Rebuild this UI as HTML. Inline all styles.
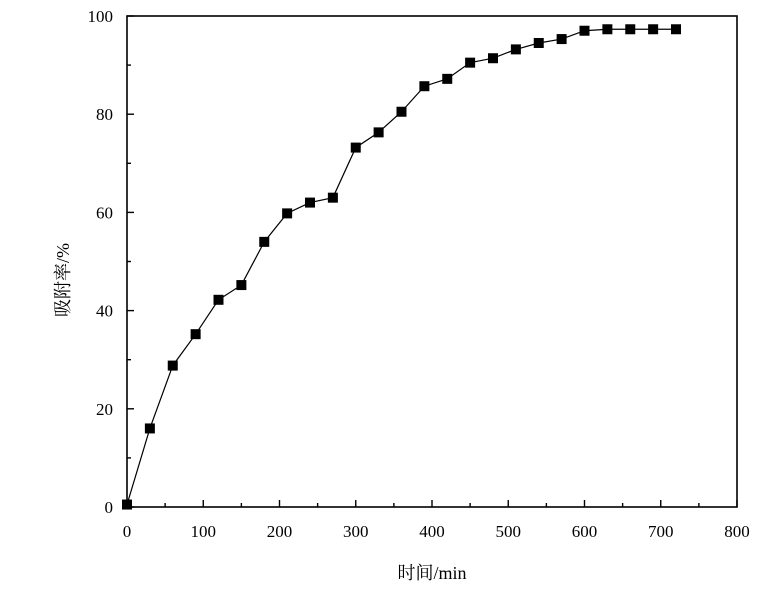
<!DOCTYPE html>
<html><head><meta charset="utf-8"><style>
body{margin:0;background:#fff;}
svg text{font-family:"Liberation Serif","Noto Serif CJK SC",serif;font-size:17px;fill:#000;}
</style></head><body>
<svg id="chart" width="765" height="598" xmlns="http://www.w3.org/2000/svg">
<rect x="127" y="16" width="610" height="491" fill="none" stroke="#000" stroke-width="1.6"/>
<g id="axes"></g>
<g id="series"></g>
<text x="432" y="579" text-anchor="middle" style="font-size:18px">时间/min</text>
<text transform="translate(69,280) rotate(-90)" text-anchor="middle" style="font-size:18px">吸附率/%</text>
</svg>
<script>
const times=[0,30,60,90,120,150,180,210,240,270,300,330,360,390,420,450,480,510,540,570,600,630,660,690,720];
const rates=[0.5,16,28.8,35.2,42.2,45.2,54,59.8,62,63,73.2,76.3,80.5,85.7,87.2,90.5,91.4,93.2,94.5,95.3,97,97.3,97.3,97.3,97.3];
const xTicks=[0,100,200,300,400,500,600,700,800];
const yTicks=[0,20,40,60,80,100];
const NS="http://www.w3.org/2000/svg";
const X=v=>127+v/800*610, Y=v=>507-v/100*491;
const ax=document.getElementById('axes'), se=document.getElementById('series');
function mk(t,a,p){const e=document.createElementNS(NS,t);for(const k in a)e.setAttribute(k,a[k]);p.appendChild(e);return e;}
for(let v=0;v<=800;v+=50){const l=mk('line',{x1:X(v),x2:X(v),y1:507,y2:507-(v%100?4:7),stroke:'#000','stroke-width':1.4},ax);

}
for(let v=0;v<=100;v+=10){const l=mk('line',{x1:127,x2:127+(v%20?4:7),y1:Y(v),y2:Y(v),stroke:'#000','stroke-width':1.4},ax);

}
xTicks.forEach(v=>{const t=mk('text',{x:X(v),y:537,'text-anchor':'middle'},ax);t.textContent=v;

});
yTicks.forEach(v=>{const t=mk('text',{x:113,y:Y(v)+6,'text-anchor':'end'},ax);t.textContent=v;

});
const pl=mk('polyline',{points:times.map((t,i)=>X(t)+','+Y(rates[i])).join(' '),fill:'none',stroke:'#000','stroke-width':1.2},se);


times.forEach((t,i)=>{const r=mk('rect',{x:X(t)-5,y:Y(rates[i])-5,width:10,height:10,fill:'#000'},se);

});
</script>
</body></html>
